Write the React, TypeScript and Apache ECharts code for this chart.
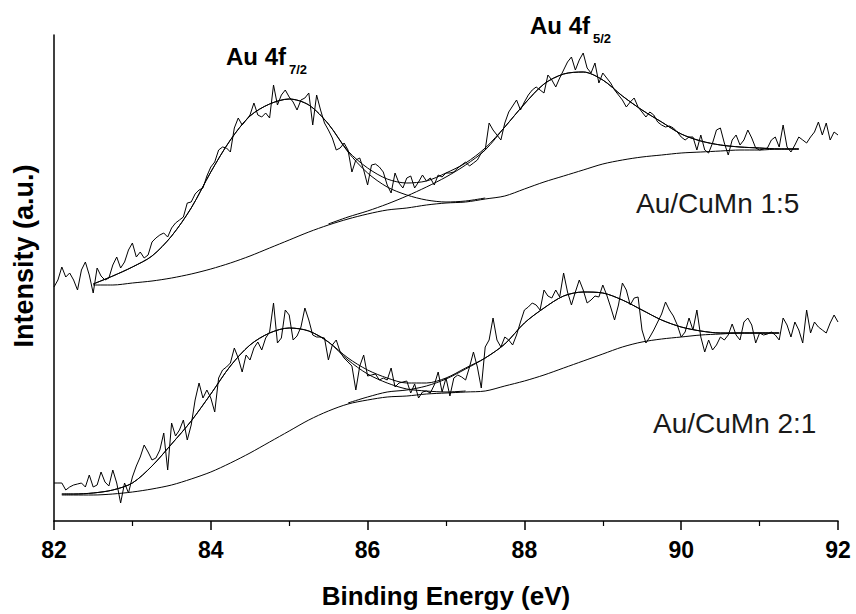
import React, { useEffect, useRef } from "react";
import * as echarts from "echarts";

// ---------- data (intensity in arbitrary units) ----------
const X_MIN = 82;
const X_MAX = 92;
const X_INTERVAL = 2;
const Y_MIN = 0;
const Y_MAX = 486;

// raw spectra, sampled every 0.05 eV from 82.00 to 92.00 eV
const RAW_START = 82.0;
const RAW_STEP = 0.05;

const rawCuMn15 = [
  234, 241, 254, 244, 248, 241, 231, 251, 259, 246,
  228, 253, 245, 241, 243, 256, 264, 253, 259, 271,
  278, 264, 269, 263, 266, 279, 283, 286, 288, 284,
  293, 298, 301, 304, 318, 319, 327, 331, 333, 345,
  354, 359, 371, 374, 373, 369, 393, 403, 396, 401,
  406, 418, 406, 404, 408, 403, 436, 416, 426, 431,
  424, 419, 411, 421, 423, 428, 396, 426, 411, 398,
  391, 383, 371, 373, 378, 371, 349, 361, 363, 351,
  336, 356, 357, 354, 349, 336, 328, 348, 338, 333,
  343, 345, 333, 339, 346, 340, 343, 336, 346, 344,
  348, 348, 349, 353, 356, 359, 355, 358, 361, 368,
  371, 398, 391, 386, 381, 398, 409, 415, 421, 411,
  419, 426, 431, 434, 431, 428, 446, 441, 434, 443,
  451, 459, 464, 451, 461, 468, 453, 448, 458, 438,
  448, 443, 438, 431, 426, 421, 414, 419, 423, 414,
  409, 404, 409, 406, 399, 396, 394, 395, 393, 389,
  384, 381, 384, 384, 371, 386, 371, 368, 378, 391,
  393, 378, 366, 381, 386, 376, 381, 391, 383, 373,
  371, 372, 373, 381, 384, 374, 396, 374, 369, 376,
  384, 381, 378, 384, 389, 399, 386, 398, 381, 389,
  386,
];

const rawCuMn21 = [
  38, 38, 38, 31, 34, 36, 37, 38, 34, 46,
  34, 36, 49, 39, 35, 51, 38, 18, 38, 28,
  44, 55, 64, 76, 69, 61, 63, 71, 88, 51,
  98, 85, 91, 101, 81, 96, 121, 138, 123, 131,
  123, 109, 143, 151, 154, 158, 173, 163, 149, 166,
  161, 173, 179, 171, 183, 189, 218, 178, 183, 211,
  206, 181, 185, 194, 213, 201, 186, 184, 184, 183,
  161, 176, 181, 169, 163, 159, 155, 131, 155, 166,
  145, 146, 147, 141, 143, 141, 153, 134, 138, 139,
  140, 128, 137, 123, 129, 130, 128, 136, 149, 129,
  143, 125, 143, 146, 144, 141, 154, 169, 154, 133,
  174, 181, 203, 181, 174, 184, 181, 176, 186, 199,
  211, 214, 218, 216, 211, 231, 225, 223, 231, 224,
  248, 229, 216, 229, 241, 231, 218, 221, 225, 224,
  236, 226, 214, 201, 216, 238, 231, 216, 223, 224,
  191, 178, 184, 191, 199, 207, 219, 211, 205, 196,
  184, 189, 203, 191, 211, 184, 169, 181, 171, 176,
  184, 181, 186, 197, 186, 181, 199, 203, 196, 178,
  188, 186, 187, 189, 186, 181, 203, 196, 184, 199,
  191, 178, 211, 188, 199, 194, 191, 188, 198, 206,
  199,
];

// fitted curves, Au/CuMn 1:5
const fitE15 = [
  82.5, 82.75, 83, 83.25, 83.5, 83.75, 84, 84.25, 84.5, 84.75,
  85, 85.25, 85.5, 85.75, 86, 86.25, 86.5, 86.75, 87, 87.25,
  87.5, 87.75, 88, 88.25, 88.5, 88.75, 89, 89.25, 89.5, 89.75,
  90, 90.25, 90.5, 90.75, 91, 91.25, 91.5,
];
const env15 = [
  237, 245, 254, 265, 285, 313, 349, 381, 405, 417,
  422, 416, 397, 370, 353, 342, 338, 340, 348, 358,
  373, 394, 417, 437, 447, 449, 441, 425, 411, 399,
  387, 380, 376, 374, 373, 372, 372,
];
const bg15 = [
  236, 236, 238, 240, 243, 247, 252, 258, 265, 273,
  281, 289, 296, 302, 307, 311, 313, 316, 318, 319,
  322, 325, 332, 339, 345, 351, 357, 361, 364, 366,
  368, 369, 370, 371, 371, 372, 372,
];
const peak72_15 = [
  237, 245, 254, 265, 285, 313, 349, 381, 405, 417,
  422, 416, 397, 369, 348, 334, 326, 321, 319, 320,
  323, null, null, null, null, null, null, null, null, null,
  null, null, null, null, null, null, null,
];
const peak52_15 = [
  null, null, null, null, null, null, null, null, null, null,
  null, null, 297, 304, 310, 317, 325, 334, 344, 356,
  371, 394, 417, 437, 447, 449, 441, 425, 411, 399,
  387, 380, 376, 374, 373, 372, 372,
];

// fitted curves, Au/CuMn 2:1
const fitE21 = [
  82.1, 82.25, 82.5, 82.75, 83, 83.25, 83.5, 83.75, 84, 84.25,
  84.5, 84.75, 85, 85.25, 85.5, 85.75, 86, 86.25, 86.5, 86.75,
  87, 87.25, 87.5, 87.75, 88, 88.25, 88.5, 88.75, 89, 89.25,
  89.5, 89.75, 90, 90.25, 90.5, 90.75, 91, 91.25,
];
const env21 = [
  27, 27, 28, 31, 38, 55, 77, 100, 127, 155,
  176, 188, 193, 190, 179, 163, 151, 143, 138, 138,
  143, 153, 163, 177, 198, 213, 225, 229, 228, 221,
  211, 201, 194, 190, 188, 188, 188, 188,
];
const bg21 = [
  26, 26, 26, 27, 29, 32, 36, 42, 49, 58,
  68, 79, 90, 101, 110, 117, 121, 124, 125, 127,
  128, 129, 130, 135, 140, 146, 153, 160, 167, 174,
  179, 182, 184, 186, 187, 188, 188, 188,
];
const peak72_21 = [
  27, 27, 28, 31, 38, 55, 77, 100, 127, 155,
  176, 188, 193, 190, 179, 161, 147, 138, 132, 130,
  129, 130, null, null, null, null, null, null, null, null,
  null, null, null, null, null, null, null, null,
];
const peak52_21 = [
  null, null, null, null, null, null, null, null, null, null,
  null, null, null, null, null, 118, 124, 129, 131, 135,
  142, 152, 163, 177, 198, 213, 225, 229, 228, 221,
  211, 201, 194, 190, 188, 188, 188, 188,
];

// ---------- helpers ----------
const rawPairs = (vals: number[]) =>
  vals.map((v, i) => [+(RAW_START + i * RAW_STEP).toFixed(2), v]);
const fitPairs = (es: number[], vals: (number | null)[]) =>
  es.map((e, i) => [e, vals[i]]);

const FONT = "'Liberation Sans', Arial, sans-serif";

export default function App() {
  const ref = useRef<HTMLDivElement>(null);

  useEffect(() => {
    if (!ref.current) return;
    const chart = echarts.init(ref.current, undefined, { renderer: "svg" });

    const rawLine = (name: string, vals: number[]) => ({
      name,
      type: "line",
      data: rawPairs(vals),
      showSymbol: false,
      symbol: "none",
      lineStyle: { color: "#000", width: 1 },
      z: 2,
    });
    const fitLine = (name: string, es: number[], vals: (number | null)[]) => ({
      name,
      type: "line",
      data: fitPairs(es, vals),
      showSymbol: false,
      symbol: "none",
      smooth: 0.3,
      connectNulls: false,
      lineStyle: { color: "#000", width: 1 },
      z: 3,
    });

    const option: any = {
      animation: false,
      backgroundColor: "#fff",
      grid: { left: 54, right: 18, top: 35, bottom: 93, containLabel: false },
      xAxis: {
        type: "value",
        min: X_MIN,
        max: X_MAX,
        interval: X_INTERVAL,
        name: "Binding Energy (eV)",
        nameLocation: "middle",
        nameGap: 62,
        nameTextStyle: {
          fontFamily: FONT,
          fontWeight: "bold",
          fontSize: 26,
          color: "#000",
        },
        axisLine: { show: true, lineStyle: { color: "#000", width: 1.5 } },
        axisTick: { show: true, length: 9, inside: false, lineStyle: { color: "#000", width: 1.5 } },
        minorTick: { show: true, splitNumber: 2, length: 5, lineStyle: { color: "#000", width: 1.2 } },
        axisLabel: {
          fontFamily: FONT,
          fontWeight: "bold",
          fontSize: 23,
          color: "#000",
          margin: 17,
        },
        splitLine: { show: false },
        minorSplitLine: { show: false },
      },
      yAxis: {
        type: "value",
        min: Y_MIN,
        max: Y_MAX,
        axisLine: { show: true, lineStyle: { color: "#000", width: 1.5 } },
        axisTick: { show: false },
        axisLabel: { show: false },
        splitLine: { show: false },
      },
      series: [
        rawLine("Au/CuMn 1:5 data", rawCuMn15),
        fitLine("Au/CuMn 1:5 envelope", fitE15, env15),
        fitLine("Au/CuMn 1:5 background", fitE15, bg15),
        fitLine("Au/CuMn 1:5 Au 4f7/2", fitE15, peak72_15),
        fitLine("Au/CuMn 1:5 Au 4f5/2", fitE15, peak52_15),
        rawLine("Au/CuMn 2:1 data", rawCuMn21),
        fitLine("Au/CuMn 2:1 envelope", fitE21, env21),
        fitLine("Au/CuMn 2:1 background", fitE21, bg21),
        fitLine("Au/CuMn 2:1 Au 4f7/2", fitE21, peak72_21),
        fitLine("Au/CuMn 2:1 Au 4f5/2", fitE21, peak52_21),
      ],
      graphic: [
        {
          type: "text",
          x: 24,
          y: 256,
          rotation: Math.PI / 2,
          style: {
            text: "Intensity (a.u.)",
            fontFamily: FONT,
            fontWeight: "bold",
            fontSize: 27,
            fill: "#000",
            align: "center",
            verticalAlign: "middle",
          },
        },
        {
          type: "text",
          x: 226,
          y: 56,
          style: {
            text: "Au 4f",
            fontFamily: FONT,
            fontWeight: "bold",
            fontSize: 24,
            fill: "#000",
            align: "left",
            verticalAlign: "middle",
          },
        },
        {
          type: "text",
          x: 289,
          y: 69,
          style: {
            text: "7/2",
            fontFamily: FONT,
            fontWeight: "bold",
            fontSize: 13,
            fill: "#000",
            align: "left",
            verticalAlign: "middle",
          },
        },
        {
          type: "text",
          x: 530,
          y: 25,
          style: {
            text: "Au 4f",
            fontFamily: FONT,
            fontWeight: "bold",
            fontSize: 24,
            fill: "#000",
            align: "left",
            verticalAlign: "middle",
          },
        },
        {
          type: "text",
          x: 593,
          y: 38,
          style: {
            text: "5/2",
            fontFamily: FONT,
            fontWeight: "bold",
            fontSize: 13,
            fill: "#000",
            align: "left",
            verticalAlign: "middle",
          },
        },
        {
          type: "text",
          x: 636,
          y: 203,
          style: {
            text: "Au/CuMn 1:5",
            fontFamily: FONT,
            fontSize: 28,
            fill: "#1a1a1a",
            align: "left",
            verticalAlign: "middle",
          },
        },
        {
          type: "text",
          x: 653,
          y: 423,
          style: {
            text: "Au/CuMn 2:1",
            fontFamily: FONT,
            fontSize: 28,
            fill: "#1a1a1a",
            align: "left",
            verticalAlign: "middle",
          },
        },
      ],
    };

    chart.setOption(option);
    return () => chart.dispose();
  }, []);

  return (
    <div
      ref={ref}
      style={{ position: "absolute", left: 0, top: 0, width: 856, height: 614, background: "#fff" }}
    />
  );
}
